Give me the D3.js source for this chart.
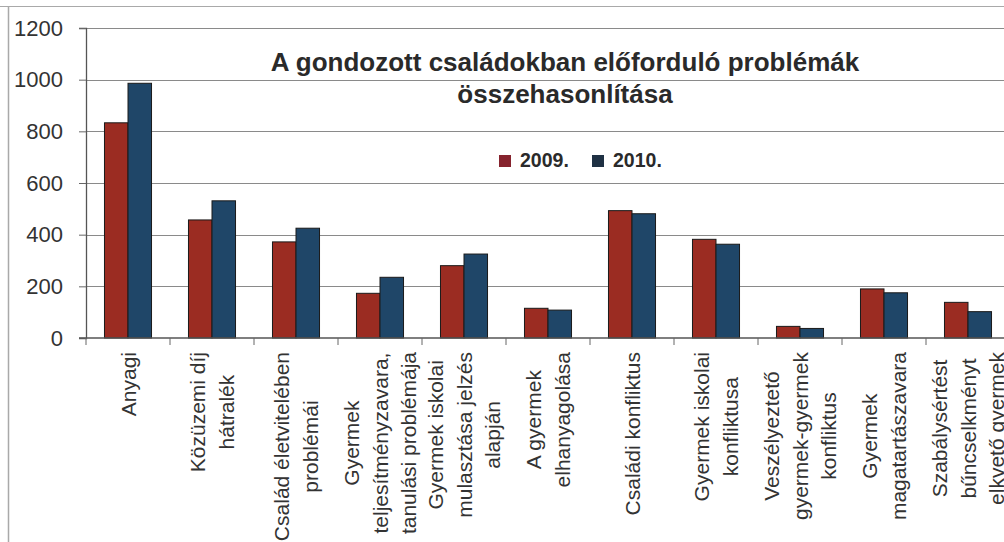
<!DOCTYPE html>
<html>
<head>
<meta charset="utf-8">
<script src="https://cdnjs.cloudflare.com/ajax/libs/d3/7.8.5/d3.min.js"></script>
<style>
  html, body { margin: 0; padding: 0; background: #fff; }
  svg { display: block; font-family: "Liberation Sans", Arial, sans-serif; }
</style>
</head>
<body>
<svg width="1004" height="542"></svg>
<script>
// categories (line breaks as in the picture)
var categories = [
  ["Anyagi"],
  ["Közüzemi díj", "hátralék"],
  ["Család életvitelében", "problémái"],
  ["Gyermek", "teljesítményzavara,", "tanulási problémája"],
  ["Gyermek iskolai", "mulasztása jelzés", "alapján"],
  ["A gyermek", "elhanyagolása"],
  ["Családi konfliktus"],
  ["Gyermek iskolai", "konfliktusa"],
  ["Veszélyeztető", "gyermek-gyermek", "konfliktus"],
  ["Gyermek", "magatartászavara"],
  ["Szabálysértést", "bűncselkményt", "elkvető gyermek"]
];
var series = ["2009.", "2010."];
var values2009 = [833, 457, 372, 173, 280, 115, 493, 382, 45, 190, 138];
var values2010 = [986, 531, 425, 235, 325, 108, 481, 363, 37, 175, 102];
var yTicks = [0, 200, 400, 600, 800, 1000, 1200];
var titleLines = ["A gondozott családokban előforduló problémák", "összehasonlítása"];

var colors = ["#9b2c22", "#1f4668"];
var legendColors = ["#86232e", "#1f3144"];

var svg = d3.select("svg"),
    margin = {top: 28, left: 86, bottom: 204},
    plotRight = 1010,
    height = 542 - margin.top - margin.bottom;

var keys = categories.map(function(c, i) { return "c" + i; });

var x0 = d3.scaleBand()
    .domain(keys)
    .range([margin.left, plotRight])
    .paddingInner(0.44)
    .paddingOuter(0.22);

var x1 = d3.scaleBand()
    .domain(series)
    .range([0, x0.bandwidth()]);

var y = d3.scaleLinear()
    .domain([0, 1200])
    .range([margin.top + height, margin.top]);

// outer frame of the scanned chart
svg.append("line").attr("x1", 0).attr("x2", 1004).attr("y1", 6.5).attr("y2", 6.5)
    .attr("stroke", "#a9a9a9").attr("stroke-width", 1.2);
svg.append("line").attr("x1", 8.5).attr("x2", 8.5).attr("y1", 6).attr("y2", 542)
    .attr("stroke", "#a9a9a9").attr("stroke-width", 1.5);

// gridlines
svg.append("g")
    .selectAll("line")
    .data(yTicks.slice(1))
    .enter().append("line")
    .attr("x1", margin.left).attr("x2", 1004)
    .attr("y1", function(d) { return Math.round(y(d)) + 0.5; })
    .attr("y2", function(d) { return Math.round(y(d)) + 0.5; })
    .attr("stroke", "#8a8a8a").attr("stroke-width", 1);

// y axis
var yAxis = d3.axisLeft(y).tickValues(yTicks).tickFormat(d3.format("d")).tickSize(7).tickPadding(16);
var gy = svg.append("g")
    .attr("transform", "translate(" + margin.left + ",0)")
    .call(yAxis);
gy.select(".domain").attr("stroke", "#555").attr("stroke-width", 1.3);
gy.selectAll(".tick line").attr("stroke", "#666");
gy.selectAll(".tick text")
    .attr("font-size", 22)
    .attr("fill", "#333")
    .attr("font-family", "Liberation Sans, Arial, sans-serif");

// bars
var groups = svg.append("g")
    .selectAll("g")
    .data(keys)
    .enter().append("g")
    .attr("transform", function(d) { return "translate(" + x0(d) + ",0)"; });

groups.selectAll("rect")
    .data(function(d, i) { return [values2009[i], values2010[i]].map(function(v, j) { return {s: series[j], v: v, j: j}; }); })
    .enter().append("rect")
    .attr("x", function(d) { return x1(d.s); })
    .attr("y", function(d) { return y(d.v); })
    .attr("width", x1.bandwidth())
    .attr("height", function(d) { return y(0) - y(d.v); })
    .attr("fill", function(d) { return colors[d.j]; })
    .attr("stroke", "#1a1a1a")
    .attr("stroke-width", 1);

// x axis line and boundary ticks
var baseY = y(0);
svg.append("line")
    .attr("x1", margin.left - 7).attr("x2", 1004)
    .attr("y1", baseY).attr("y2", baseY)
    .attr("stroke", "#555").attr("stroke-width", 1.3);

var gap = (x0.step() - x0.bandwidth()) / 2;
svg.append("g")
    .selectAll("line")
    .data(keys)
    .enter().append("line")
    .attr("x1", function(d) { return x0(d) - gap; })
    .attr("x2", function(d) { return x0(d) - gap; })
    .attr("y1", baseY).attr("y2", baseY + 7)
    .attr("stroke", "#666");

// rotated category labels
var lineH = 28.5;
var labels = svg.append("g")
    .selectAll("g")
    .data(keys)
    .enter().append("g")
    .attr("transform", function(d) {
      return "translate(" + (x0(d) + x0.bandwidth() / 2) + "," + (baseY + 14) + ") rotate(-90)";
    });

labels.each(function(d, i) {
  var g = d3.select(this),
      lines = categories[i],
      n = lines.length;
  var texts = g.selectAll("text")
      .data(lines)
      .enter().append("text")
      .attr("font-size", 21)
      .attr("fill", "#333")
      .attr("text-anchor", "middle")
      .attr("dominant-baseline", "central")
      .attr("y", function(t, k) { return (k - (n - 1) / 2) * lineH; })
      .text(function(t) { return t; });
  var maxW = d3.max(texts.nodes(), function(node) { return node.getComputedTextLength(); });
  texts.attr("x", -maxW / 2);
});

// title
svg.append("g")
    .selectAll("text")
    .data(titleLines)
    .enter().append("text")
    .attr("x", 565)
    .attr("y", function(d, i) { return 70.5 + i * 32.5; })
    .attr("text-anchor", "middle")
    .attr("font-size", 26)
    .attr("font-weight", "bold")
    .attr("fill", "#2a2a2a")
    .text(function(d) { return d; });

// legend
var legend = svg.append("g")
    .selectAll("g")
    .data(series)
    .enter().append("g")
    .attr("transform", function(d, i) { return "translate(" + (499 + i * 93) + ",155)"; });

legend.append("rect")
    .attr("width", 12).attr("height", 12)
    .attr("fill", function(d, i) { return legendColors[i]; });

legend.append("text")
    .attr("x", 21).attr("y", 12.3)
    .attr("font-size", 19.5)
    .attr("font-weight", "bold")
    .attr("fill", "#2a2a2a")
    .text(function(d) { return d; });
</script>
</body>
</html>
